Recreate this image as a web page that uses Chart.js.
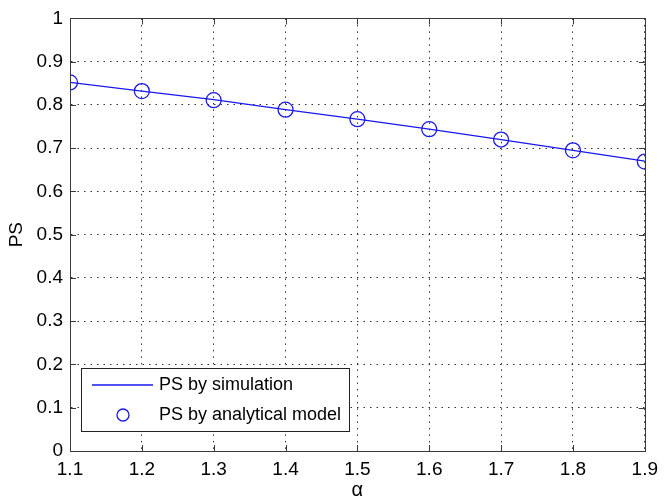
<!DOCTYPE html>
<html>
<head>
<meta charset="utf-8">
<script src="https://cdn.jsdelivr.net/npm/chart.js@4/dist/chart.umd.min.js"></script>
<style>
  html, body { margin: 0; padding: 0; background: #fff; }
  #wrap { width: 665px; height: 502px; }
</style>
</head>
<body>
<div id="wrap"><canvas id="chart" width="665" height="502"></canvas></div>
<script>
const alphas = [1.1, 1.2, 1.3, 1.4, 1.5, 1.6, 1.7, 1.8, 1.9];
const psSimulation = [0.852, 0.832, 0.812, 0.789, 0.767, 0.744, 0.720, 0.695, 0.670];
const psAnalytical = [0.852, 0.832, 0.811, 0.789, 0.767, 0.744, 0.720, 0.695, 0.669];
const xTicks = [1.1, 1.2, 1.3, 1.4, 1.5, 1.6, 1.7, 1.8, 1.9];
const yTicks = [0, 0.1, 0.2, 0.3, 0.4, 0.5, 0.6, 0.7, 0.8, 0.9, 1];

const FONT = "'Liberation Sans', Arial, sans-serif";
const BLUE = 'rgb(25,25,235)';
const AXIS = '#3a3a3a';

// MATLAB-ish box, inward ticks and the legend inside the plot
const matlabAxes = {
  id: 'matlabAxes',
  afterDraw(chart) {
    const ctx = chart.ctx;
    const a = chart.chartArea;
    const xs = chart.scales.x, ys = chart.scales.y;
    const tl = 6;

    ctx.save();
    ctx.strokeStyle = AXIS;
    ctx.lineWidth = 1;
    ctx.beginPath();
    xTicks.forEach(v => {
      const px = Math.round(xs.getPixelForValue(v)) + 0.5;
      ctx.moveTo(px, a.bottom); ctx.lineTo(px, a.bottom - tl);
      ctx.moveTo(px, a.top); ctx.lineTo(px, a.top + tl);
    });
    yTicks.forEach(v => {
      const py = Math.round(ys.getPixelForValue(v)) + 0.5;
      ctx.moveTo(a.left, py); ctx.lineTo(a.left + tl, py);
      ctx.moveTo(a.right, py); ctx.lineTo(a.right - tl, py);
    });
    ctx.stroke();
    ctx.strokeRect(Math.round(a.left) + 0.5, Math.round(a.top) + 0.5,
                   Math.round(a.right - a.left), Math.round(a.bottom - a.top));

    // legend
    const lx = a.left + 11, ly = a.bottom - 83, lw = 268, lh = 63;
    ctx.fillStyle = '#fff';
    ctx.fillRect(lx, ly, lw, lh);
    ctx.strokeStyle = '#222';
    ctx.strokeRect(Math.round(lx) + 0.5, Math.round(ly) + 0.5, lw, lh);

    const ds = chart.data.datasets;
    ctx.strokeStyle = ds[0].borderColor;
    ctx.lineWidth = ds[0].borderWidth;
    ctx.beginPath();
    ctx.moveTo(lx + 11, ly + 17); ctx.lineTo(lx + 72, ly + 17);
    ctx.stroke();

    ctx.strokeStyle = ds[1].borderColor;
    ctx.lineWidth = ds[1].borderWidth;
    ctx.beginPath();
    ctx.arc(lx + 42, ly + 47, 6, 0, Math.PI * 2);
    ctx.stroke();

    ctx.fillStyle = '#000';
    ctx.font = '18px ' + FONT;
    ctx.textBaseline = 'middle';
    ctx.textAlign = 'left';
    ctx.fillText(ds[0].label, lx + 78, ly + 17);
    ctx.fillText(ds[1].label, lx + 78, ly + 47);
    ctx.restore();
  }
};

new Chart(document.getElementById('chart'), {
  type: 'line',
  data: {
    datasets: [
      {
        label: 'PS by simulation',
        data: alphas.map((x, i) => ({x, y: psSimulation[i]})),
        borderColor: BLUE,
        borderWidth: 1.3,
        pointRadius: 0,
        fill: false
      },
      {
        label: 'PS by analytical model',
        data: alphas.map((x, i) => ({x, y: psAnalytical[i]})),
        borderColor: BLUE,
        borderWidth: 1.3,
        backgroundColor: 'rgba(0,0,0,0)',
        showLine: false,
        pointRadius: 7.5,
        pointStyle: 'circle'
      }
    ]
  },
  options: {
    responsive: false,
    animation: false,
    layout: { padding: { left: 0, top: 11, right: 14, bottom: 0 } },
    plugins: { legend: { display: false }, tooltip: { enabled: false } },
    scales: {
      x: {
        type: 'linear',
        min: 1.1, max: 1.9,
        afterBuildTicks: s => { s.ticks = xTicks.map(v => ({value: v})); },
        afterFit: s => { s.height = 51; },
        grid: { color: '#333', lineWidth: 1, drawTicks: false },
        border: { display: true, color: AXIS, dash: [1.5, 5] },
        ticks: {
          padding: 7, color: '#000', font: { family: FONT, size: 19 },
          maxRotation: 0, autoSkip: false,
          callback: v => xTicks.includes(+v.toFixed(1)) ? (+v).toFixed(1) : ''
        },
        title: { display: true, text: 'α', color: '#000', font: { family: FONT, size: 20 }, padding: { top: 0, bottom: 0 } }
      },
      y: {
        min: 0, max: 1,
        afterBuildTicks: s => { s.ticks = yTicks.map(v => ({value: v})); },
        afterFit: s => { s.width = 70; },
        grid: { color: '#333', lineWidth: 1, drawTicks: false },
        border: { display: true, color: AXIS, dash: [1.5, 5] },
        ticks: {
          padding: 7, color: '#000', font: { family: FONT, size: 19 },
          autoSkip: false,
          callback: v => String(+(+v).toFixed(1))
        },
        title: { display: true, text: 'PS', color: '#000', font: { family: FONT, size: 19 }, padding: { top: 5, bottom: 0 } }
      }
    }
  },
  plugins: [matlabAxes]
});
</script>
</body>
</html>
